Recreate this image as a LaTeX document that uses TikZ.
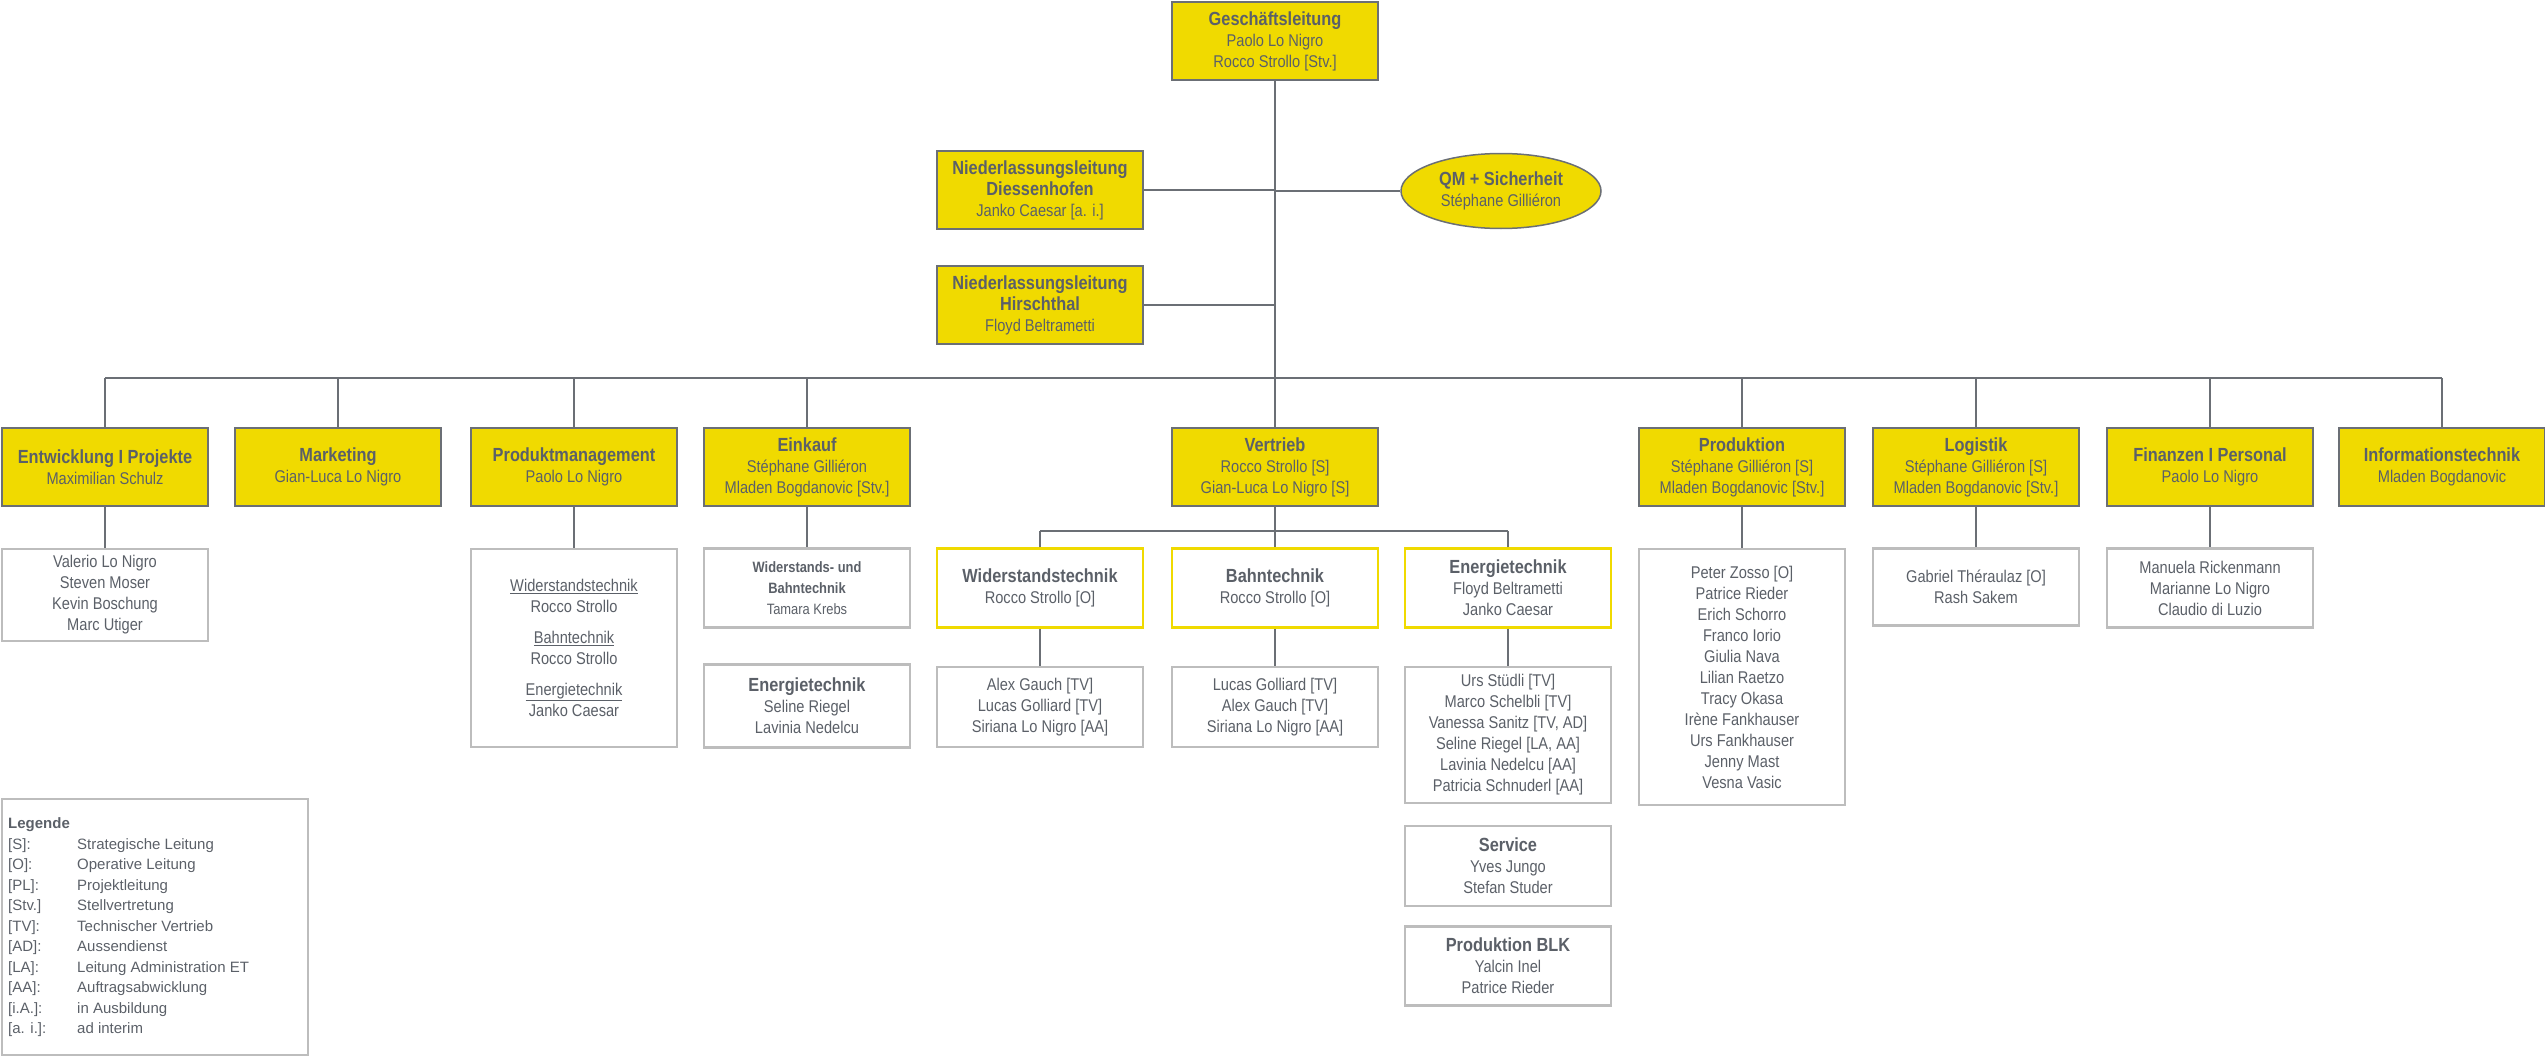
\documentclass[tikz,border=0pt]{standalone}
\usepackage{fontspec}
\setmainfont{Liberation Sans}
\newfontfamily\narrowfont{Liberation Sans}[FakeStretch=0.86]
\usetikzlibrary{shapes.geometric}

\definecolor{orgyellow}{HTML}{F0DA00}
\definecolor{orgtext}{HTML}{5B6068}
\definecolor{orgline}{HTML}{6B6F75}
\definecolor{orglight}{HTML}{BDBDBD}

\newcommand{\hd}[1]{{\fontsize{19}{21}\selectfont\bfseries #1}}

\tikzset{
  unit/.style={rectangle, draw=orgline, line width=1.5pt, fill=orgyellow, text=orgtext,
    minimum width=206pt, minimum height=78pt, align=center,
    font=\narrowfont\fontsize{17}{21}\selectfont},
  sub/.style={unit, fill=white, draw=orgyellow, line width=2.5pt, minimum height=79pt},
  staff/.style={unit, fill=white, draw=orglight, line width=2.5pt},
  link/.style={draw=orgline, line width=1.2pt}
}

\begin{document}
\begin{tikzpicture}[x=1pt,y=-1pt]
\useasboundingbox (0,0) rectangle (2545,1057);

% Top management
\node[unit] (gl) at (1275,41) {\hd{Geschäftsleitung}\\Paolo Lo Nigro\\Rocco Strollo [Stv.]};
\node[unit] (nld) at (1040,190) {\hd{Niederlassungsleitung}\\\hd{Diessenhofen}\\Janko Caesar [a. i.]};
\node[unit] (nlh) at (1040,305) {\hd{Niederlassungsleitung}\\\hd{Hirschthal}\\Floyd Beltrametti};
\node[unit, ellipse, minimum width=200pt, minimum height=75pt, inner sep=0pt] (qm) at (1501,191) {\hd{QM + Sicherheit}\\Stéphane Gilliéron};

% Departments
\node[unit] (ent) at (105,467) {\hd{Entwicklung I Projekte}\\Maximilian Schulz};
\node[unit] (mkt) at (338,467) {\hd{Marketing}\\Gian-Luca Lo Nigro};
\node[unit] (pm) at (574,467) {\hd{Produktmanagement}\\Paolo Lo Nigro};
\node[unit] (ek) at (807,467) {\hd{Einkauf}\\Stéphane Gilliéron\\Mladen Bogdanovic [Stv.]};
\node[unit] (vt) at (1275,467) {\hd{Vertrieb}\\Rocco Strollo [S]\\Gian-Luca Lo Nigro [S]};
\node[unit] (prod) at (1742,467) {\hd{Produktion}\\Stéphane Gilliéron [S]\\Mladen Bogdanovic [Stv.]};
\node[unit] (log) at (1976,467) {\hd{Logistik}\\Stéphane Gilliéron [S]\\Mladen Bogdanovic [Stv.]};
\node[unit] (fin) at (2210,467) {\hd{Finanzen I Personal}\\Paolo Lo Nigro};
\node[unit] (info) at (2442,467) {\hd{Informationstechnik}\\Mladen Bogdanovic};

% Sales sections
\node[sub] (vwt) at (1040,588) {\hd{Widerstandstechnik}\\Rocco Strollo [O]};
\node[sub] (vbt) at (1275,588) {\hd{Bahntechnik}\\Rocco Strollo [O]};
\node[sub] (vet) at (1508,588) {\hd{Energietechnik}\\Floyd Beltrametti\\Janko Caesar};

% Staff
\node[staff, minimum height=92pt] (sent) at (105,595) {Valerio Lo Nigro\\Steven Moser\\Kevin Boschung\\Marc Utiger};
\node[staff, minimum height=198pt] (spm) at (574,648) {\underline{Widerstandstechnik}\\Rocco Strollo\\[10pt]\underline{Bahntechnik}\\Rocco Strollo\\[10pt]\underline{Energietechnik}\\Janko Caesar};
\node[staff, minimum height=79pt] (sek) at (807,588) {{\fontsize{15}{19}\selectfont\textbf{Widerstands- und}}\\{\fontsize{15}{19}\selectfont\textbf{Bahntechnik}}\\{\fontsize{15}{19}\selectfont Tamara Krebs}};
\node[staff, minimum height=83pt] (sek2) at (807,706) {\hd{Energietechnik}\\Seline Riegel\\Lavinia Nedelcu};
\node[staff, minimum height=80pt] (svwt) at (1040,707) {Alex Gauch [TV]\\Lucas Golliard [TV]\\Siriana Lo Nigro [AA]};
\node[staff, minimum height=80pt] (svbt) at (1275,707) {Lucas Golliard [TV]\\Alex Gauch [TV]\\Siriana Lo Nigro [AA]};
\node[staff, minimum height=136pt] (svet) at (1508,735) {Urs Stüdli [TV]\\Marco Schelbli [TV]\\Vanessa Sanitz [TV, AD]\\Seline Riegel [LA, AA]\\Lavinia Nedelcu [AA]\\Patricia Schnuderl [AA]};
\node[staff, minimum height=80pt] (svc) at (1508,866) {\hd{Service}\\Yves Jungo\\Stefan Studer};
\node[staff, minimum height=79pt] (blk) at (1508,966) {\hd{Produktion BLK}\\Yalcin Inel\\Patrice Rieder};
\node[staff, minimum height=256pt] (sprod) at (1742,677) {Peter Zosso [O]\\Patrice Rieder\\Erich Schorro\\Franco Iorio\\Giulia Nava\\Lilian Raetzo\\Tracy Okasa\\Irène Fankhauser\\Urs Fankhauser\\Jenny Mast\\Vesna Vasic};
\node[staff, minimum height=77pt] (slog) at (1976,587) {Gabriel Théraulaz [O]\\Rash Sakem};
\node[staff, minimum height=79pt] (sfin) at (2210,588) {Manuela Rickenmann\\Marianne Lo Nigro\\Claudio di Luzio};

% Legend
\draw[orglight, line width=1.5pt] (2,799) rectangle (308,1055);
\node[anchor=north west, text=orgtext, font=\fontsize{15}{20.5}\selectfont, align=left, inner sep=0pt]
  (leg) at (8,814) {\begin{tabular}{@{}p{69pt}@{}l@{}}
  \multicolumn{2}{@{}l}{\textbf{Legende}}\\
  {[S]:} & Strategische Leitung\\
  {[O]:} & Operative Leitung\\
  {[PL]:} & Projektleitung\\
  {[Stv.]} & Stellvertretung\\
  {[TV]:} & Technischer Vertrieb\\
  {[AD]:} & Aussendienst\\
  {[LA]:} & Leitung Administration ET\\
  {[AA]:} & Auftragsabwicklung\\
  {[i.A.]:} & in Ausbildung\\
  {[a. i.]:} & ad interim
  \end{tabular}};

% Connectors
\coordinate (bus) at (0,378);
\coordinate (vbus) at (0,531);
\draw[link] (gl.south) -- (vt.north);
\draw[link] (nld.east) -- (nld.east -| gl.south);
\draw[link] (nlh.east) -- (nlh.east -| gl.south);
\draw[link] (qm.west) -- (qm.west -| gl.south);
\draw[link] (ent.north |- bus) -- (info.north |- bus);
\foreach \n in {ent,mkt,pm,ek,prod,log,fin,info}
  \draw[link] (\n.north) -- (\n.north |- bus);
\draw[link] (vwt.north |- vbus) -- (vet.north |- vbus);
\foreach \n in {vwt,vet}
  \draw[link] (\n.north) -- (\n.north |- vbus);
\draw[link] (ent.south) -- (sent.north);
\draw[link] (pm.south) -- (spm.north);
\draw[link] (ek.south) -- (sek.north);
\draw[link] (vt.south) -- (vbt.north);
\draw[link] (vwt.south) -- (svwt.north);
\draw[link] (vbt.south) -- (svbt.north);
\draw[link] (vet.south) -- (svet.north);
\draw[link] (prod.south) -- (sprod.north);
\draw[link] (log.south) -- (slog.north);
\draw[link] (fin.south) -- (sfin.north);

\end{tikzpicture}
\end{document}
